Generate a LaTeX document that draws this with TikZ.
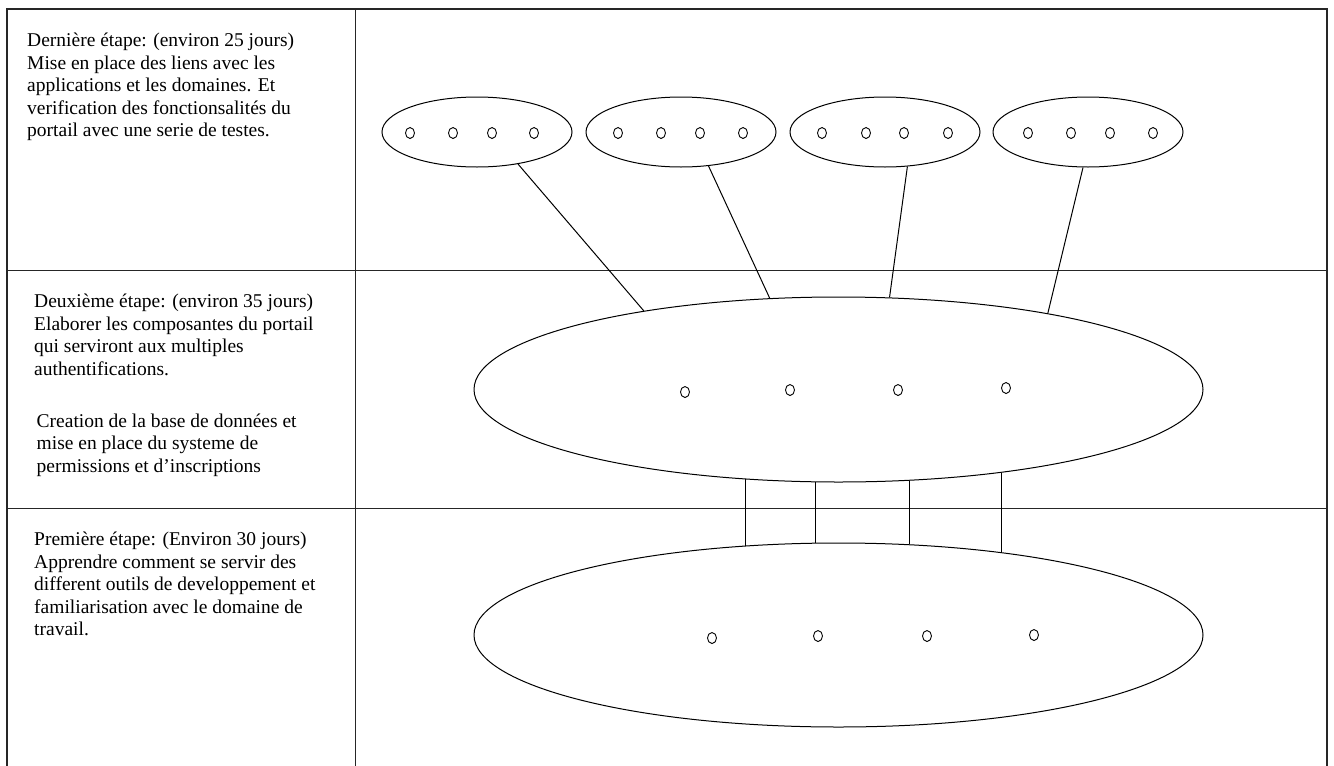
\documentclass[tikz,border=0pt]{standalone}
\usepackage{fontspec}
\setmainfont{Liberation Serif}
\usetikzlibrary{shapes.geometric}
\begin{document}
\begin{tikzpicture}[x=1pt,y=-1pt,
  frame/.style={line width=1.4pt, draw=black!85},
  gridline/.style={line width=1pt, draw=black!85},
  oval/.style={ellipse, draw, line width=1pt, inner sep=0pt},
  dot/.style={ellipse, draw, line width=0.9pt, inner sep=0pt, minimum width=9pt, minimum height=11pt},
  link/.style={line width=1pt},
  cell/.style={anchor=north west, inner sep=0pt, align=left, font=\fontsize{19.5}{22.4}\selectfont}]
\useasboundingbox (0,0) rectangle (1334,766);
\fill[white] (0,0) rectangle (1334,766);
% table
\draw[frame] (7,766) -- (7,9) -- (1327,9) -- (1327,766);
\draw[gridline] (355,9) -- (355,766);
\draw[gridline] (7,270) -- (1327,270);
\draw[gridline] (7,508) -- (1327,508);
% texts
\node[cell] (t1) at (27,31) {\strut Dernière étape: (environ 25 jours)\\
Mise en place des liens avec les\\
applications et les domaines. Et\\
verification des fonctionsalités du\\
portail avec une serie de testes.};
\node[cell] (t2) at (34,292) {\strut Deuxième étape: (environ 35 jours)\\
Elaborer les composantes du portail\\
qui serviront aux multiples\\
authentifications.\\[30pt]
\hspace*{2.5pt}Creation de la base de données et\\
\hspace*{2.5pt}mise en place du systeme de\\
\hspace*{2.5pt}permissions et d’inscriptions};
\node[cell] (t3) at (34,530) {\strut Première étape: (Environ 30 jours)\\
Apprendre comment se servir des\\
different outils de developpement et\\
familiarisation avec le domaine de\\
travail.};
% small ellipses
\node[oval, minimum width=190pt, minimum height=70pt] (s1) at (477,132) {};
\node[oval, minimum width=190pt, minimum height=70pt] (s2) at (681,132) {};
\node[oval, minimum width=190pt, minimum height=70pt] (s3) at (885,132) {};
\node[oval, minimum width=190pt, minimum height=70pt] (s4) at (1088,132) {};
\foreach \x [count=\i] in {410,453,492,534} \node[dot] (s1d\i) at (\x,133) {};
\foreach \x [count=\i] in {618,661,700,743} \node[dot] (s2d\i) at (\x,133) {};
\foreach \x [count=\i] in {822,866,904,948} \node[dot] (s3d\i) at (\x,133) {};
\foreach \x [count=\i] in {1028,1071,1110,1153} \node[dot] (s4d\i) at (\x,133) {};
% big ellipses
\node[oval, minimum width=729pt, minimum height=185pt] (m) at (838.5,389.5) {};
\node[oval, minimum width=729pt, minimum height=184pt] (b) at (838.5,635) {};
\node[dot] (md1) at (685,392) {};
\node[dot] (md2) at (790,390) {};
\node[dot] (md3) at (898,390) {};
\node[dot] (md4) at (1006,388) {};
\node[dot] (bd1) at (712,638) {};
\node[dot] (bd2) at (818,636) {};
\node[dot] (bd3) at (927,636) {};
\node[dot] (bd4) at (1034,635) {};
% links from small ellipses to middle ellipse
\draw[link] (s1.-38.4) -- (m.158.5);
\draw[link] (s2.-51.2) -- (m.127.8);
\draw[link] (s3.-57.1) -- (m.61.6);
\draw[link] (s4.-98.1) -- (m.20.3);
% vertical links between middle and bottom ellipses
\draw[link] (m.-136.92) -- (m.-136.92 |- b.136.92);
\draw[link] (m.-104.28) -- (m.-104.28 |- b.104.28);
\draw[link] (m.-52.57) -- (m.-52.57 |- b.52.57);
\draw[link] (m.-27.0) -- (m.-27.0 |- b.27.0);
\end{tikzpicture}
\end{document}
